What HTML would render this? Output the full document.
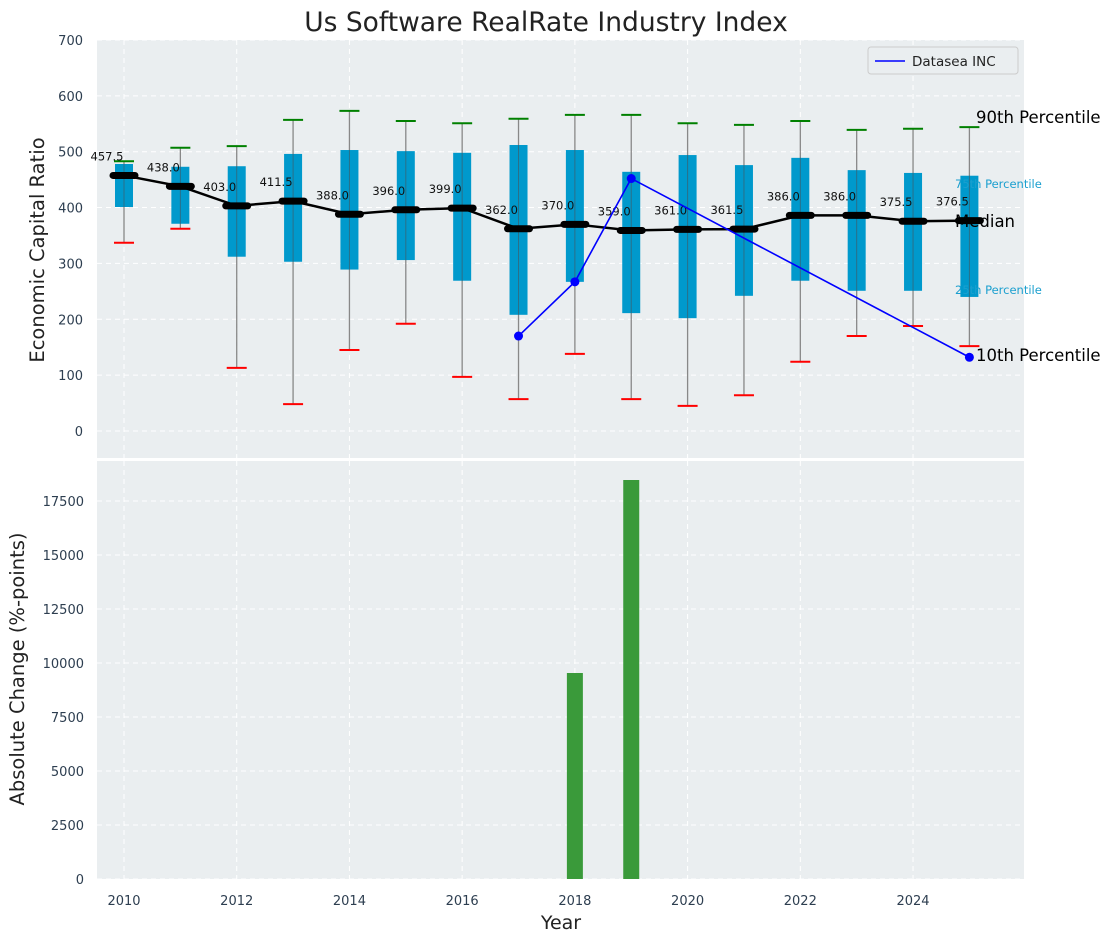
<!DOCTYPE html>
<html><head><meta charset="utf-8"><style>
body{margin:0;background:#fff;}
svg{display:block;font-family:"DejaVu Sans","Liberation Sans",sans-serif;}
</style></head><body>
<svg id="c" width="1111" height="942"></svg>
<script>
const years=[2010,2011,2012,2013,2014,2015,2016,2017,2018,2019,2020,2021,2022,2023,2024,2025];
const p10=[337,362,113,48,145,192,97,57,138,57,45,64,124,170,188,152];
const p25=[401,371,312,303,289,306,269,208,267,211,202,242,269,251,251,240];
const p75=[478,473,474,496,503,501,498,512,503,464,494,476,489,467,462,457];
const p90=[483,507,510,557,573,555,551,559,566,566,551,548,555,539,541,544];
const medians=[457.5,438.0,403.0,411.5,388.0,396.0,399.0,362.0,370.0,359.0,361.0,361.5,386.0,386.0,375.5,376.5];
const coYears=[2017,2018,2019,2025];
const coValues=[170,267,452,132];
const barYears=[2018,2019];
const barValues=[9537,18472];
const yTicksTop=[0,100,200,300,400,500,600,700];
const yTicksBot=[0,2500,5000,7500,10000,12500,15000,17500];
const xTicks=[2010,2012,2014,2016,2018,2020,2022,2024];

const NS="http://www.w3.org/2000/svg";
const svg=document.getElementById('c');
function el(tag,attrs,parent){const e=document.createElementNS(NS,tag);for(const k in attrs)e.setAttribute(k,attrs[k]);(parent||svg).appendChild(e);return e;}
const X=v=>124+(v-2010)*56.36;
const Y1=v=>431-v*0.5586;
const Y2=v=>879-v*0.0216;
const L=97,R=1024;

let e;
e=el('rect',{x:L,y:40,width:R-L,height:418,fill:'#eaeef0'});

e=el('rect',{x:L,y:461,width:R-L,height:418,fill:'#eaeef0'});


yTicksTop.forEach(t=>{el('line',{x1:L,x2:R,y1:Y1(t),y2:Y1(t),stroke:'#fff','stroke-dasharray':'5,4','stroke-width':1});
 e=el('text',{x:L-14,y:Y1(t)+5,'text-anchor':'end','font-size':13,fill:'#2d3e50'});e.textContent=t;
 });
yTicksBot.forEach(t=>{el('line',{x1:L,x2:R,y1:Y2(t),y2:Y2(t),stroke:'#fff','stroke-dasharray':'5,4','stroke-width':1});
 e=el('text',{x:L-13,y:Y2(t)+5,'text-anchor':'end','font-size':13,fill:'#2d3e50'});e.textContent=t;
 });
xTicks.forEach(t=>{el('line',{x1:X(t),x2:X(t),y1:40,y2:458,stroke:'#fff','stroke-dasharray':'5,4'});
 el('line',{x1:X(t),x2:X(t),y1:461,y2:879,stroke:'#fff','stroke-dasharray':'5,4'});
 e=el('text',{x:X(t),y:905,'text-anchor':'middle','font-size':13,fill:'#2d3e50'});e.textContent=t;
 });

years.forEach((yr,i)=>{const x=X(yr);
 e=el('line',{x1:x,x2:x,y1:Y1(p90[i]),y2:Y1(p10[i]),stroke:'#888','stroke-width':1.3});
 
 e=el('rect',{x:x-9,y:Y1(p75[i]),width:18,height:Y1(p25[i])-Y1(p75[i]),fill:'#0099cc'});
 
 el('line',{x1:x,x2:x,y1:Y1(p75[i]),y2:Y1(p25[i]),stroke:'#2a6f88','stroke-width':1});
 e=el('line',{x1:x-10,x2:x+10,y1:Y1(p90[i]),y2:Y1(p90[i]),stroke:'green','stroke-width':2});
 
 e=el('line',{x1:x-10,x2:x+10,y1:Y1(p10[i]),y2:Y1(p10[i]),stroke:'red','stroke-width':2});
 
});
e=el('polyline',{points:years.map((y,i)=>X(y)+','+Y1(medians[i])).join(' '),fill:'none',stroke:'#000','stroke-width':2.5});

years.forEach((yr,i)=>{const x=X(yr),y=Y1(medians[i]);
 e=el('line',{x1:x-11,x2:x+11,y1:y,y2:y,stroke:'#000','stroke-width':7,'stroke-linecap':'round'});
 
 e=el('text',{x:x-17,y:y-15,'text-anchor':'middle','font-size':11.5,fill:'#111'});e.textContent=medians[i].toFixed(1);
 
});
e=el('polyline',{points:coYears.map((y,i)=>X(y)+','+Y1(coValues[i])).join(' '),fill:'none',stroke:'#0000ff','stroke-width':1.6});

coYears.forEach((y,i)=>{e=el('circle',{cx:X(y),cy:Y1(coValues[i]),r:4.5,fill:'#0000ff'});
 });

const ann=[[976,123,'90th Percentile',16.5,'#000'],[955,188,'75th Percentile',11.5,'#1a9fcf'],[955,227,'Median',16.5,'#000'],[955,294,'25th Percentile',11.5,'#1a9fcf'],[976,361,'10th Percentile',16.5,'#000']];
ann.forEach(a=>{e=el('text',{x:a[0],y:a[1],'font-size':a[3],fill:a[4]});e.textContent=a[2];
 });

const lg=el('g',{});
el('rect',{x:868,y:47,width:150,height:27,rx:3,fill:'#eaeef0',stroke:'#ccc'},lg);
el('line',{x1:875,x2:905,y1:61,y2:61,stroke:'#0000ff','stroke-width':1.6},lg);
e=el('text',{x:912,y:66,'font-size':13.5,fill:'#222'},lg);e.textContent='Datasea INC';

barYears.forEach((y,i)=>{e=el('rect',{x:X(y)-8,y:Y2(barValues[i]),width:16,height:Y2(0)-Y2(barValues[i]),fill:'#3a9a3a'});
 });

e=el('text',{x:546,y:31,'text-anchor':'middle','font-size':26.5,fill:'#222'});e.textContent='Us Software RealRate Industry Index';

e=el('text',{x:44,y:250,'text-anchor':'middle','font-size':19.5,fill:'#222',transform:'rotate(-90 44 250)'});e.textContent='Economic Capital Ratio';

e=el('text',{x:24,y:669,'text-anchor':'middle','font-size':19.5,fill:'#222',transform:'rotate(-90 24 669)'});e.textContent='Absolute Change (%-points)';

e=el('text',{x:561,y:929,'text-anchor':'middle','font-size':19,fill:'#222'});e.textContent='Year';

</script>
</body></html>
